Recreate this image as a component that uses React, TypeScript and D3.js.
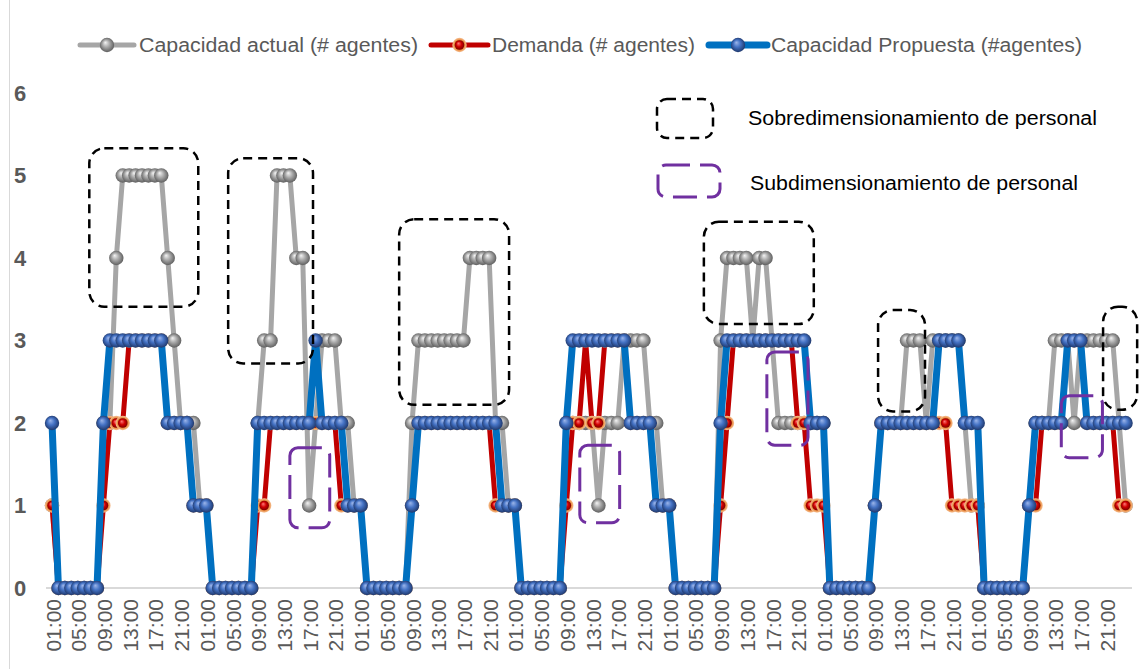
import React from "react";
import * as d3 from "d3";

// Hour-of-day categories, repeated for each of the seven days
const HOURS = [
  "01:00", "02:00", "03:00", "04:00", "05:00", "06:00", "07:00", "08:00",
  "09:00", "10:00", "11:00", "12:00", "13:00", "14:00", "15:00", "16:00",
  "17:00", "18:00", "19:00", "20:00", "21:00", "22:00", "23:00", "00:00",
];
const DAYS = 7;
const Y_TICKS = [0, 1, 2, 3, 4, 5, 6];

// Capacidad actual (# agentes), one row per day
const capacidadActual = [
  1, 0, 0, 0, 0, 0, 0, 0, 2, 2, 4, 5, 5, 5, 5, 5, 5, 5, 4, 3, 2, 2, 2, 1,
  1, 0, 0, 0, 0, 0, 0, 0, 2, 3, 3, 5, 5, 5, 4, 4, 1, 2, 3, 3, 3, 2, 2, 1,
  1, 0, 0, 0, 0, 0, 0, 0, 2, 3, 3, 3, 3, 3, 3, 3, 3, 4, 4, 4, 4, 2, 2, 1,
  1, 0, 0, 0, 0, 0, 0, 0, 2, 2, 2, 2, 2, 1, 2, 2, 2, 3, 3, 3, 3, 2, 2, 1,
  1, 0, 0, 0, 0, 0, 0, 0, 3, 4, 4, 4, 4, 3, 4, 4, 3, 2, 2, 2, 2, 2, 2, 2,
  2, 0, 0, 0, 0, 0, 0, 0, 1, 2, 2, 2, 2, 3, 3, 3, 2, 3, 3, 3, 3, 3, 2, 1,
  1, 0, 0, 0, 0, 0, 0, 0, 1, 2, 2, 2, 3, 3, 3, 2, 3, 3, 3, 3, 3, 3, 2, 1,
];

// Demanda (# agentes)
const demanda = [
  1, 0, 0, 0, 0, 0, 0, 0, 1, 2, 2, 2, 3, 3, 3, 3, 3, 3, 2, 2, 2, 2, 1, 1,
  1, 0, 0, 0, 0, 0, 0, 0, 1, 1, 2, 2, 2, 2, 2, 2, 2, 2, 2, 2, 2, 1, 1, 1,
  1, 0, 0, 0, 0, 0, 0, 0, 1, 2, 2, 2, 2, 2, 2, 2, 2, 2, 2, 2, 2, 1, 1, 1,
  1, 0, 0, 0, 0, 0, 0, 0, 1, 2, 2, 3, 2, 2, 3, 3, 3, 3, 2, 2, 2, 2, 1, 1,
  1, 0, 0, 0, 0, 0, 0, 0, 1, 2, 3, 3, 3, 3, 3, 3, 3, 3, 3, 3, 2, 2, 1, 1,
  1, 0, 0, 0, 0, 0, 0, 0, 1, 2, 2, 2, 2, 2, 2, 2, 2, 2, 2, 2, 1, 1, 1, 1,
  1, 0, 0, 0, 0, 0, 0, 0, 1, 1, 2, 2, 2, 2, 3, 3, 3, 2, 2, 2, 2, 2, 1, 1,
];

// Capacidad Propuesta (#agentes)
const capacidadPropuesta = [
  2, 0, 0, 0, 0, 0, 0, 0, 2, 3, 3, 3, 3, 3, 3, 3, 3, 3, 2, 2, 2, 2, 1, 1,
  1, 0, 0, 0, 0, 0, 0, 0, 2, 2, 2, 2, 2, 2, 2, 2, 2, 3, 2, 2, 2, 2, 1, 1,
  1, 0, 0, 0, 0, 0, 0, 0, 1, 2, 2, 2, 2, 2, 2, 2, 2, 2, 2, 2, 2, 2, 1, 1,
  1, 0, 0, 0, 0, 0, 0, 0, 2, 3, 3, 3, 3, 3, 3, 3, 3, 3, 2, 2, 2, 2, 1, 1,
  1, 0, 0, 0, 0, 0, 0, 0, 2, 3, 3, 3, 3, 3, 3, 3, 3, 3, 3, 3, 3, 3, 2, 2,
  2, 0, 0, 0, 0, 0, 0, 0, 1, 2, 2, 2, 2, 2, 2, 2, 2, 2, 3, 3, 3, 3, 2, 2,
  2, 0, 0, 0, 0, 0, 0, 0, 1, 2, 2, 2, 2, 2, 3, 3, 3, 2, 2, 2, 2, 2, 2, 2,
];

const SERIES_NAMES = [
  "Capacidad actual (# agentes)",
  "Demanda (# agentes)",
  "Capacidad Propuesta (#agentes)",
];

// Highlight boxes in data units: [first index, last index, low value, high value]
const sobredimensionamiento = [
  [5.8, 22.75, 3.41, 5.33],
  [27.4, 40.6, 2.72, 5.21],
  [54.0, 71.1, 2.22, 4.47],
  [101.4, 118.5, 3.2, 4.44],
  [128.5, 135.8, 2.14, 3.37],
  [163.5, 168.8, 2.16, 3.41],
];
const subdimensionamiento = [
  [37.0, 43.2, 0.73, 1.7],
  [82.1, 88.3, 0.79, 1.73],
  [111.2, 117.6, 1.73, 2.86],
  [157.0, 163.4, 1.58, 2.33],
];
const NOTE_LABELS = ["Sobredimensionamiento de personal", "Subdimensionamiento de personal"];

const W = 1142;
const H = 669;
const FONT = "'Liberation Sans', Arial, sans-serif";
const TEXT_GRAY = "#595959";

export default function App() {
  const categories = d3.range(DAYS * 24);
  const x = d3
    .scalePoint<number>()
    .domain(categories)
    .range([48.8, 1128.8])
    .padding(0.5);
  const y = d3.scaleLinear().domain([0, 6]).range([588, 93]);

  const line = d3
    .line<number>()
    .x((_, i) => x(i) as number)
    .y((d) => y(d));

  const R = 7.2;

  const grayMarker = (cx: number, cy: number, key: string | number) => (
    <circle key={key} cx={cx} cy={cy} r={R} fill="url(#ballGray)" />
  );
  const redMarker = (cx: number, cy: number, key: string | number) => (
    <g key={key}>
      <circle cx={cx} cy={cy} r={R} fill="url(#ringOrange)" />
      <circle cx={cx} cy={cy} r={4.8} fill="url(#ballRed)" />
    </g>
  );
  const blueMarker = (cx: number, cy: number, key: string | number) => (
    <circle key={key} cx={cx} cy={cy} r={R} fill="url(#ballBlue)" />
  );

  const series = [
    { data: capacidadActual, color: "#A6A6A6", width: 5, marker: grayMarker },
    { data: demanda, color: "#C00000", width: 5, marker: redMarker },
    { data: capacidadPropuesta, color: "#0070C0", width: 7, marker: blueMarker },
  ];

  const box = (b: number[], i: number, stroke: string, sw: number, dash: string, rx: number) => {
    const x0 = (x(0) as number) + b[0] * x.step();
    const x1 = (x(0) as number) + b[1] * x.step();
    return (
      <rect
        key={i}
        x={x0}
        y={y(b[3])}
        width={x1 - x0}
        height={y(b[2]) - y(b[3])}
        rx={rx}
        fill="none"
        stroke={stroke}
        strokeWidth={sw}
        strokeDasharray={dash}
      />
    );
  };

  // legend layout: [line start, line end, text start, text width]
  const legendItems = [
    [80, 134, 139, 279],
    [431, 488, 492, 203],
    [709, 767, 771, 311],
  ];

  return (
    <svg
      width={W}
      height={H}
      style={{ position: "absolute", left: 0, top: 0, background: "#fff" }}
      fontFamily={FONT}
    >
      <defs>
        <radialGradient id="ballGray" cx="50%" cy="50%" r="55%" fx="38%" fy="32%">
          <stop offset="0%" stopColor="#f4f4f4" />
          <stop offset="45%" stopColor="#a9a9a9" />
          <stop offset="100%" stopColor="#555555" />
        </radialGradient>
        <radialGradient id="ballBlue" cx="50%" cy="50%" r="55%" fx="38%" fy="32%">
          <stop offset="0%" stopColor="#9db6ea" />
          <stop offset="45%" stopColor="#4472C4" />
          <stop offset="100%" stopColor="#1a3060" />
        </radialGradient>
        <radialGradient id="ballRed" cx="50%" cy="50%" r="55%" fx="38%" fy="32%">
          <stop offset="0%" stopColor="#ff7a7a" />
          <stop offset="50%" stopColor="#d00000" />
          <stop offset="100%" stopColor="#700000" />
        </radialGradient>
        <radialGradient id="ringOrange" cx="50%" cy="50%" r="50%">
          <stop offset="0%" stopColor="#c55a11" />
          <stop offset="70%" stopColor="#e98a3c" />
          <stop offset="100%" stopColor="#f6c39a" />
        </radialGradient>
      </defs>

      <rect x={0} y={0} width={W} height={H} fill="#fff" />
      <line x1={9.5} y1={0} x2={9.5} y2={H} stroke="#D9D9D9" strokeWidth={1} />

      {/* legend */}
      {series.map((s, i) => {
        const [l0, l1, t0, tw] = legendItems[i];
        const cy = 45;
        return (
          <g key={i}>
            <line x1={l0} y1={cy} x2={l1} y2={cy} stroke={s.color} strokeWidth={s.width} strokeLinecap="round" />
            {s.marker((l0 + l1) / 2, cy, "lm" + i)}
            <text
              x={t0}
              y={cy}
              dy="0.35em"
              fontSize={20}
              fill={TEXT_GRAY}
              textLength={tw}
              lengthAdjust="spacingAndGlyphs"
            >
              {SERIES_NAMES[i]}
            </text>
          </g>
        );
      })}

      {/* y axis labels */}
      {Y_TICKS.map((t) => (
        <text
          key={t}
          x={20}
          y={y(t)}
          dy="0.36em"
          textAnchor="middle"
          fontSize={22}
          fontWeight="bold"
          fill={TEXT_GRAY}
        >
          {t}
        </text>
      ))}

      {/* category axis */}
      <line x1={46} y1={y(0)} x2={1132} y2={y(0)} stroke="#D9D9D9" strokeWidth={2} />
      {categories
        .filter((i) => i % 4 === 0)
        .map((i) => (
          <text
            key={i}
            transform={`translate(${(x(i) as number) + 1},${599}) rotate(-90)`}
            textAnchor="end"
            dy="0.36em"
            fontSize={21}
            fill={TEXT_GRAY}
          >
            {HOURS[i % 24]}
          </text>
        ))}

      {/* series: line then markers, later series on top */}
      {series.map((s, si) => (
        <g key={si}>
          <path d={line(s.data) || ""} fill="none" stroke={s.color} strokeWidth={s.width} strokeLinejoin="round" />
          {s.data.map((v, i) => s.marker(x(i) as number, y(v), i))}
        </g>
      ))}

      {/* highlight boxes */}
      {sobredimensionamiento.map((b, i) => box(b, i, "#000", 2.5, "9 6", 15))}
      {subdimensionamiento.map((b, i) => box(b, i, "#7030A0", 3, "24 10", 8))}

      {/* box key */}
      <rect x={657} y={99} width={56} height={39} rx={10} fill="none" stroke="#000" strokeWidth={2.5} strokeDasharray="9 6" />
      <text x={748} y={118} dy="0.35em" fontSize={20} fill="#000" textLength={349} lengthAdjust="spacingAndGlyphs">
        {NOTE_LABELS[0]}
      </text>
      <rect x={658} y={165} width={62} height={32} rx={8} fill="none" stroke="#7030A0" strokeWidth={3} strokeDasharray="24 10" />
      <text x={750} y={183} dy="0.35em" fontSize={20} fill="#000" textLength={328} lengthAdjust="spacingAndGlyphs">
        {NOTE_LABELS[1]}
      </text>
    </svg>
  );
}
